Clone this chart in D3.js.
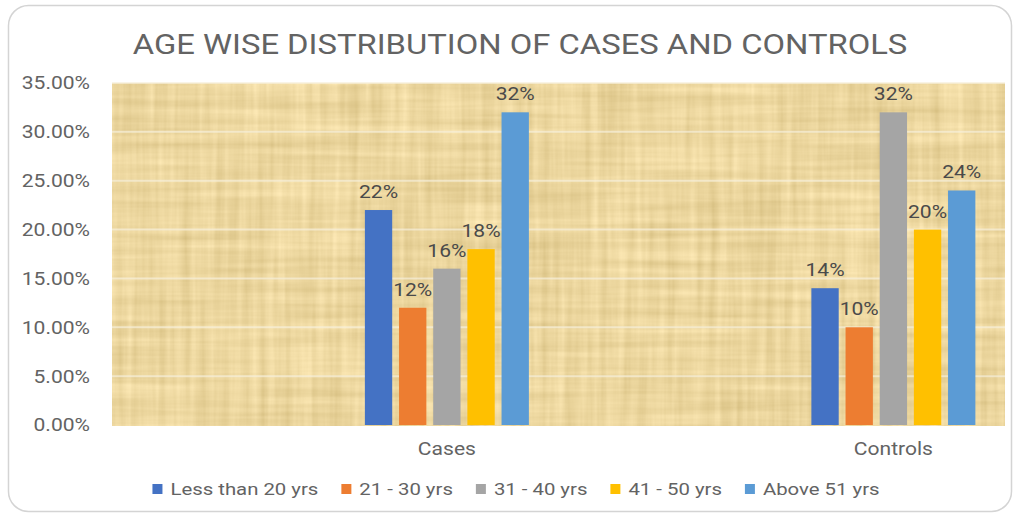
<!DOCTYPE html>
<html>
<head>
<meta charset="utf-8">
<script src="https://cdn.jsdelivr.net/npm/d3@7"></script>
<style>
  html, body { margin: 0; padding: 0; background: #ffffff; }
  svg { display: block; }
  text { font-family: Roboto, "Noto Sans", sans-serif; }
</style>
</head>
<body>
<svg id="chart" width="1017" height="514"></svg>
<script>
// Age-group shares (percent) for each study group
const categories = ["Cases", "Controls"];
const seriesNames = ["Less than 20 yrs", "21 - 30 yrs", "31 - 40 yrs", "41 - 50 yrs", "Above 51 yrs"];
const casesValues = [22, 12, 16, 18, 32];
const controlsValues = [14, 10, 32, 20, 24];
const yTicks = [0, 5, 10, 15, 20, 25, 30, 35];
const seriesColors = ["#4472c4", "#ed7d31", "#a5a5a5", "#ffc000", "#5b9bd5"];
const titleText = "AGE WISE DISTRIBUTION OF CASES AND CONTROLS";

const valuesByCategory = { "Cases": casesValues, "Controls": controlsValues };

const svg = d3.select("#chart");
const plot = { left: 112, right: 1005, top: 83, bottom: 426 };
const plotW = plot.right - plot.left;
const SX = 1.17;            // wide lettering used throughout the chart
const textGray = "#636363";

// Card behind the chart
svg.append("rect")
  .attr("x", 8.5).attr("y", 5.5)
  .attr("width", 1003).attr("height", 506)
  .attr("rx", 20).attr("ry", 20)
  .attr("fill", "#ffffff")
  .attr("stroke", "#d4d4d4")
  .attr("stroke-width", 1.5);

// Papyrus-like texture for the plot area
const defs = svg.append("defs");
const f = defs.append("filter").attr("id", "papyrus")
  .attr("x", 0).attr("y", 0).attr("width", 1).attr("height", 1)
  .attr("filterUnits", "objectBoundingBox")
  .attr("color-interpolation-filters", "sRGB");
f.append("feTurbulence").attr("type", "fractalNoise")
  .attr("baseFrequency", "0.005 0.12").attr("numOctaves", 3).attr("seed", 4).attr("result", "hRaw");
f.append("feColorMatrix").attr("in", "hRaw").attr("type", "matrix")
  .attr("values", "1 0 0 0 0  1 0 0 0 0  1 0 0 0 0  0 0 0 0 1").attr("result", "h");
f.append("feTurbulence").attr("type", "fractalNoise")
  .attr("baseFrequency", "0.12 0.006").attr("numOctaves", 3).attr("seed", 9).attr("result", "vRaw");
f.append("feColorMatrix").attr("in", "vRaw").attr("type", "matrix")
  .attr("values", "1 0 0 0 0  1 0 0 0 0  1 0 0 0 0  0 0 0 0 1").attr("result", "v");
f.append("feComposite").attr("in", "h").attr("in2", "v")
  .attr("operator", "arithmetic").attr("k1", 0).attr("k2", 0.5).attr("k3", 0.5).attr("k4", 0)
  .attr("result", "n");
f.append("feColorMatrix").attr("in", "n").attr("type", "matrix")
  .attr("values", "0.24 0 0 0 0.805  0.26 0 0 0 0.71  0.32 0 0 0 0.46  0 0 0 0 1")
  .attr("result", "tex");
f.append("feGaussianBlur").attr("in", "tex").attr("stdDeviation", 0.6);

svg.append("rect")
  .attr("x", plot.left).attr("y", plot.top)
  .attr("width", plotW).attr("height", plot.bottom - plot.top)
  .attr("fill", "#ebd59d");
svg.append("rect")
  .attr("x", plot.left).attr("y", plot.top)
  .attr("width", plotW).attr("height", plot.bottom - plot.top)
  .attr("fill", "#ffffff")
  .attr("filter", "url(#papyrus)");

// Scales
const y = d3.scaleLinear().domain([0, 35]).range([425, plot.top]);
const x0 = d3.scalePoint().domain(categories)
  .range([plot.left + plotW * 3 / 8, plot.left + plotW * 7 / 8]);
const x1 = d3.scaleBand().domain(seriesNames).range([-82, 82]).paddingInner(0.2);
const color = d3.scaleOrdinal().domain(seriesNames).range(seriesColors);

// Gridlines
svg.append("g").selectAll("line")
  .data(yTicks.filter(t => t > 0))
  .join("line")
  .attr("x1", plot.left).attr("x2", plot.right)
  .attr("y1", d => y(d)).attr("y2", d => y(d))
  .attr("stroke", "#f6efdc").attr("stroke-opacity", 0.7).attr("stroke-width", 2);

// Y axis labels
const yAxis = d3.axisLeft(y).tickValues(yTicks)
  .tickFormat(d => d.toFixed(2) + "%").tickSize(0).tickPadding(0);
const yg = svg.append("g").attr("transform", "translate(90,0)").call(yAxis);
yg.select(".domain").remove();
yg.selectAll(".tick text")
  .attr("x", null).attr("dy", null)
  .attr("dominant-baseline", "central")
  .attr("transform", `scale(${SX},1)`)
  .attr("font-size", 18)
  .attr("fill", textGray)
  .attr("text-anchor", "end");

// Bars
const groups = svg.append("g").selectAll("g")
  .data(categories)
  .join("g")
  .attr("transform", d => `translate(${x0(d)},0)`);

const barData = c => seriesNames.map((s, i) => ({ series: s, value: valuesByCategory[c][i] }));

groups.selectAll("rect")
  .data(barData)
  .join("rect")
  .attr("x", d => x1(d.series))
  .attr("width", x1.bandwidth())
  .attr("y", d => y(d.value))
  .attr("height", d => y(0) - y(d.value))
  .attr("fill", d => color(d.series));

// Value labels
groups.selectAll("text")
  .data(barData)
  .join("text")
  .attr("transform", d => `translate(${x1(d.series) + x1.bandwidth() / 2},${y(d.value) - 12}) scale(${SX},1)`)
  .attr("text-anchor", "middle")
  .attr("font-size", 18)
  .attr("fill", "#4a4a4a")
  .text(d => d.value + "%");

// Category labels
svg.append("g").selectAll("text")
  .data(categories)
  .join("text")
  .attr("transform", d => `translate(${x0(d)},455) scale(${SX},1)`)
  .attr("text-anchor", "middle")
  .attr("font-size", 18)
  .attr("fill", textGray)
  .text(d => d);

// Title
svg.append("text")
  .attr("transform", `translate(520,54) scale(${SX},1)`)
  .attr("text-anchor", "middle")
  .attr("font-size", 28)
  .attr("fill", textGray)
  .text(titleText);

// Legend
const legend = svg.append("g");
const items = legend.selectAll("g")
  .data(seriesNames)
  .join("g");
items.append("rect")
  .attr("width", 10).attr("height", 10)
  .attr("y", -5)
  .attr("fill", d => color(d));
items.append("text")
  .attr("transform", `translate(18,0) scale(${SX},1)`)
  .attr("dominant-baseline", "central")
  .attr("font-size", 17.4)
  .attr("fill", textGray)
  .text(d => d);

let cursor = 0;
const offsets = [];
items.each(function () {
  const tw = d3.select(this).select("text").node().getComputedTextLength() * SX;
  offsets.push(cursor);
  cursor += 18 + tw + 23;
});
const legendWidth = cursor - 23;
const legendStart = 516 - legendWidth / 2;
items.attr("transform", (d, i) => `translate(${legendStart + offsets[i]},489)`);
</script>
</body>
</html>
